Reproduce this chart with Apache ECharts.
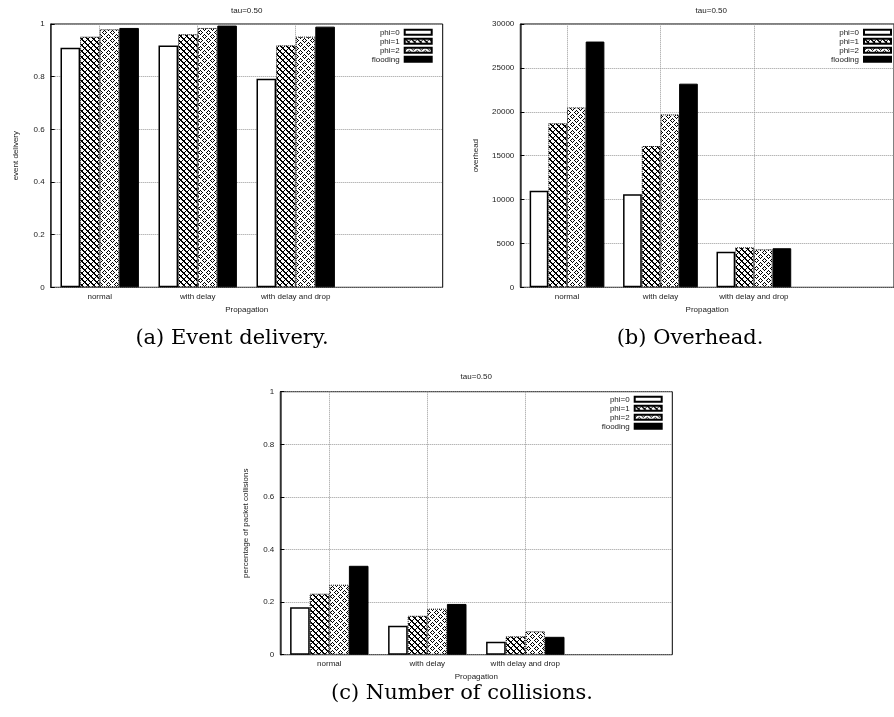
<!DOCTYPE html>
<html><head><meta charset="utf-8">
<script src="https://cdn.jsdelivr.net/npm/echarts@6/dist/echarts.min.js"></script>
<style>html,body{margin:0;padding:0;background:#fff}#c{width:894px;height:717px}</style>
</head><body><div id="c"></div>
<script>
const categories = ['normal', 'with delay', 'with delay and drop', ''];
const seriesNames = ['phi=0', 'phi=1', 'phi=2', 'flooding'];
const chartTitle = 'tau=0.50';
const xAxisName = 'Propagation';

// (a) event delivery
const deliveryPhi0 = [0.910, 0.918, 0.792];
const deliveryPhi1 = [0.952, 0.961, 0.919];
const deliveryPhi2 = [0.980, 0.985, 0.952];
const deliveryFlooding = [0.985, 0.994, 0.990];
const deliveryTicks = [0, 0.2, 0.4, 0.6, 0.8, 1];

// (b) overhead
const overheadPhi0 = [11000, 10600, 4050];
const overheadPhi1 = [18700, 16100, 4550];
const overheadPhi2 = [20500, 19700, 4330];
const overheadFlooding = [28000, 23200, 4450];
const overheadTicks = [0, 5000, 10000, 15000, 20000, 25000, 30000];

// (c) collisions
const collisionPhi0 = [0.180, 0.110, 0.049];
const collisionPhi1 = [0.232, 0.148, 0.070];
const collisionPhi2 = [0.266, 0.175, 0.089];
const collisionFlooding = [0.338, 0.193, 0.068];
const collisionTicks = [0, 0.2, 0.4, 0.6, 0.8, 1];

const yNames = ['event delivery', 'overhead', 'percentage of packet collisions'];
const captions = ['(a) Event delivery.', '(b) Overhead.', '(c) Number of collisions.'];

const panels = [
  { data: [deliveryPhi0, deliveryPhi1, deliveryPhi2, deliveryFlooding], ticks: deliveryTicks },
  { data: [overheadPhi0, overheadPhi1, overheadPhi2, overheadFlooding], ticks: overheadTicks },
  { data: [collisionPhi0, collisionPhi1, collisionPhi2, collisionFlooding], ticks: collisionTicks }
];

function makePattern(size, fn) {
  const c = document.createElement('canvas');
  c.width = size; c.height = size;
  const ctx = c.getContext('2d');
  ctx.fillStyle = '#fff'; ctx.fillRect(0, 0, size, size);
  ctx.fillStyle = '#000';
  for (let y = 0; y < size; y++) for (let x = 0; x < size; x++) if (fn(x, y)) ctx.fillRect(x, y, 1, 1);
  return { image: c, repeat: 'repeat' };
}
const pat1 = makePattern(6, (x, y) => ((x - y + 6) % 6 === 0) || ((x + y) % 6 === 0) || ((x - y + 6) % 6 === 1));
const tri = v => Math.abs(v - 4);
const pat2 = makePattern(8, (x, y) => ((x + y) % 2 === 0) && ((tri(x) + tri(y)) % 4 !== 0));

const styles = [
  { color: '#fff', borderColor: '#000', borderWidth: 1.5 },
  { color: pat1, borderColor: '#000', borderWidth: 1, borderType: 'dotted' },
  { color: pat2, borderColor: '#000', borderWidth: 1, borderType: 'dotted' },
  { color: '#000', borderColor: '#000', borderWidth: 1 }
];

const layout = [
  { grid: { left: 50.7, top: 24, width: 392, height: 263.3 }, title: [246.7, 6.5], legend: { right: 461.3, top: 27.8 }, nameGap: 31, cap: [232, 328] },
  { grid: { left: 520.3, top: 24, width: 383, height: 263.3 }, title: [711.3, 6.5], legend: { right: 2, top: 27.8 }, nameGap: 41, cap: [690, 328] },
  { grid: { left: 280.3, top: 391.7, width: 392, height: 263 }, title: [476.3, 373], legend: { right: 231.3, top: 394.8 }, nameGap: 31, cap: [462, 683] }
];

const font = 'Liberation Sans, Arial, sans-serif';
const txt = '#222';

const option = {
  animation: false,
  backgroundColor: '#fff',
  title: [],
  grid: [],
  xAxis: [],
  yAxis: [],
  legend: [],
  series: []
};

layout.forEach((L, g) => {
  const ticks = panels[g].ticks;
  option.grid.push(Object.assign({ show: true, borderColor: '#000', borderWidth: 1, backgroundColor: '#fff', containLabel: false }, L.grid));
  option.title.push({ text: chartTitle, left: L.title[0], top: L.title[1], textAlign: 'center', padding: 0,
    textStyle: { fontSize: 8, fontWeight: 'normal', color: txt, fontFamily: font } });
  option.title.push({ text: captions[g], left: L.cap[0], top: L.cap[1], textAlign: 'center', padding: 0,
    textStyle: { fontSize: 21, fontWeight: 'normal', color: '#000', fontFamily: 'DejaVu Serif, serif' } });
  option.legend.push({ orient: 'vertical', align: 'right', right: L.legend.right, top: L.legend.top, padding: 0,
    itemWidth: 27, itemHeight: 5, itemGap: 0, selectedMode: false, icon: 'rect',
    textStyle: { fontSize: 8, color: txt, fontFamily: font, lineHeight: 9 }, data: seriesNames });
  option.xAxis.push({
    type: 'category', gridIndex: g, data: categories,
    axisLine: { show: false },
    axisTick: { show: true, inside: true, alignWithLabel: true, length: 4, interval: (i) => i < 3, lineStyle: { color: '#000' } },
    axisLabel: { fontSize: 8, color: txt, fontFamily: font, margin: 5, interval: 0 },
    splitLine: { show: false },
    name: xAxisName, nameLocation: 'middle', nameGap: 18,
    nameTextStyle: { fontSize: 8, color: txt, fontFamily: font }
  });
  option.yAxis.push({
    type: 'value', gridIndex: g, min: ticks[0], max: ticks[ticks.length - 1], interval: ticks[1] - ticks[0],
    axisLine: { show: true, lineStyle: { color: '#333', width: 1.5 } },
    axisTick: { show: true, inside: true, length: 4, lineStyle: { color: '#000' } },
    axisLabel: { fontSize: 8, color: txt, fontFamily: font, margin: 6, formatter: v => String(v) },
    splitLine: { show: true, lineStyle: { color: '#999', type: 'dotted', width: 1 } },
    name: yNames[g], nameLocation: 'middle', nameGap: L.nameGap,
    nameTextStyle: { fontSize: 8, color: txt, fontFamily: font }
  });
  // vertical grid lines at category centres (helper series with no data)
  option.series.push({
    type: 'line', name: 'grid' + g, xAxisIndex: g, yAxisIndex: g, data: [], silent: true, z: 1,
    markLine: {
      silent: true, symbol: 'none', label: { show: false }, z: 1,
      lineStyle: { color: '#999', type: 'dotted', width: 1 },
      data: categories.slice(0, 3).map(c => ({ xAxis: c }))
    }
  });
  seriesNames.forEach((n, s) => {
    option.series.push({
      type: 'bar', name: n, xAxisIndex: g, yAxisIndex: g, data: panels[g].data[s],
      barGap: '0%', barCategoryGap: '20%', itemStyle: styles[s], z: 2
    });
  });
});

const chart = echarts.init(document.getElementById('c'), null, { renderer: 'canvas' });
chart.setOption(option);
</script>
</body></html>
